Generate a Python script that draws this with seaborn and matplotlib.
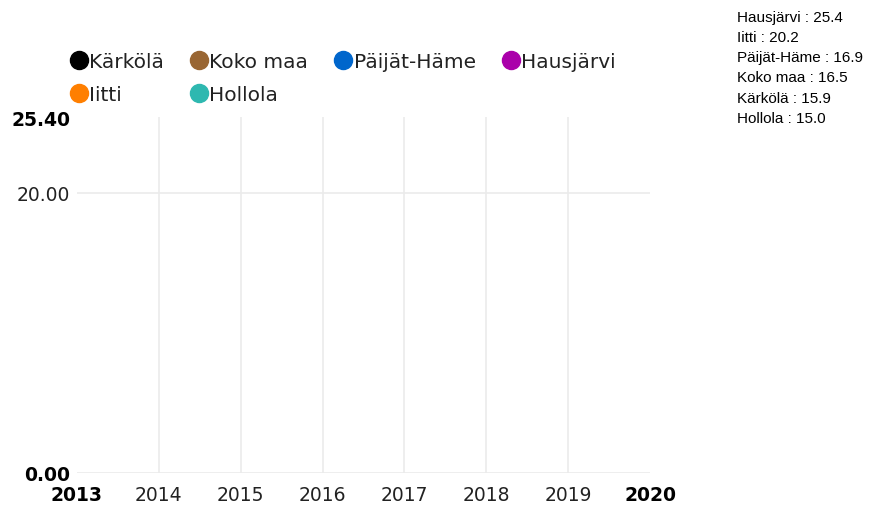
import matplotlib
matplotlib.use("Agg")
import matplotlib.pyplot as plt
from matplotlib.lines import Line2D
import seaborn as sns
import pandas as pd

# ---- data ----
series_names = ["Kärkölä", "Koko maa", "Päijät-Häme", "Hausjärvi", "Iitti", "Hollola"]
series_colors = ["#000000", "#996633", "#0066cc", "#aa00aa", "#ff7f00", "#2eb8b0"]
years = [2020]
values = {
    "Kärkölä": [15.9],
    "Koko maa": [16.5],
    "Päijät-Häme": [16.9],
    "Hausjärvi": [25.4],
    "Iitti": [20.2],
    "Hollola": [15.0],
}
info_order = ["Hausjärvi", "Iitti", "Päijät-Häme", "Koko maa", "Kärkölä", "Hollola"]
x_ticks = [2013, 2014, 2015, 2016, 2017, 2018, 2019, 2020]
y_ticks = [0.0, 20.0, 25.4]
y_tick_labels = ["0.00", "20.00", "25.40"]

rows = []
for name in series_names:
    for yr, v in zip(years, values[name]):
        rows.append({"year": yr, "value": v, "series": name})
df = pd.DataFrame(rows)

sns.set_theme(style="white")
plt.rcParams["font.family"] = ["DejaVu Sans"]

fig = plt.figure(figsize=(8.7, 5.06), dpi=100)
ax = fig.add_axes([77 / 870, 32 / 506, (650 - 77) / 870, (474 - 118) / 506])

sns.lineplot(data=df, x="year", y="value", hue="series",
             palette=dict(zip(series_names, series_colors)),
             legend=False, ax=ax, linewidth=2)

ax.set_xlim(2013, 2020)
ax.set_ylim(0, 25.4)
ax.set_xticks(x_ticks)
ax.set_xticklabels([str(t) for t in x_ticks])
ax.set_yticks(y_ticks)
ax.set_yticklabels(y_tick_labels)
ax.set_xlabel("")
ax.set_ylabel("")
for s in ax.spines.values():
    s.set_visible(False)

ax.tick_params(axis="both", length=0, labelsize=13.5, colors="#222222")
ax.tick_params(axis="y", pad=5)
ax.tick_params(axis="x", pad=9)

ax.grid(True, color="#ebebeb", linewidth=1.2)
xg = ax.xaxis.get_gridlines()
xg[0].set_visible(False)
xg[-1].set_visible(False)
ax.yaxis.get_gridlines()[-1].set_visible(False)

for i, lbl in enumerate(ax.get_yticklabels()):
    if i in (0, 2):
        lbl.set_fontweight("bold")
        lbl.set_color("#000000")
xl = ax.get_xticklabels()
for i in (0, len(xl) - 1):
    xl[i].set_fontweight("bold")
    xl[i].set_color("#000000")

# legend (row-major order emulated for column-filling legend)
handles = {n: Line2D([], [], linestyle="none", marker="o", markersize=13,
                     markerfacecolor=c, markeredgecolor=c)
           for n, c in zip(series_names, series_colors)}
order = [0, 4, 1, 5, 2, 3]
leg = fig.legend([handles[series_names[i]] for i in order],
                 [series_names[i] for i in order],
                 ncol=4, loc="upper left", bbox_to_anchor=(70 / 870, 1 - 53 / 506),
                 frameon=False, fontsize=14.5, handlelength=0.9,
                 handletextpad=0.05, columnspacing=1.3, labelspacing=0.7,
                 borderaxespad=0, borderpad=0)
for t in leg.get_texts():
    t.set_color("#222222")

info = "\n".join(f"{n} : {values[n][-1]:.1f}" for n in info_order)
fig.text(737 / 870, 1 - 11 / 506, info, ha="left", va="top",
         fontsize=11, family=["Liberation Sans", "DejaVu Sans"],
         color="#000000", linespacing=1.56)

fig.savefig("out.png", dpi=100)
